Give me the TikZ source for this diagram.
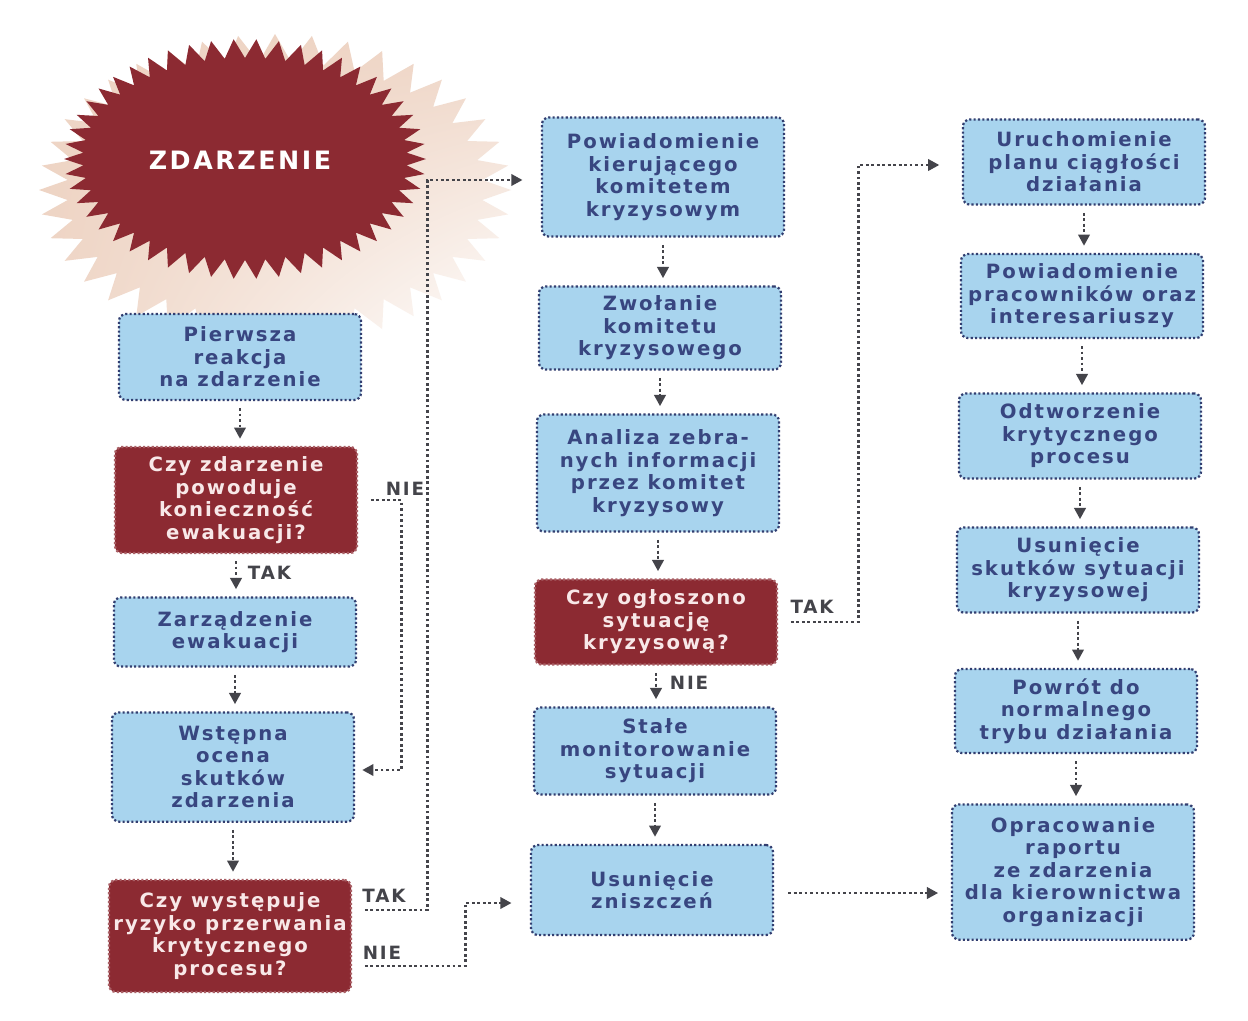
\documentclass[tikz,border=0pt]{standalone}
\usepackage{fontspec}
\setmainfont{DejaVu Sans}[LetterSpace=10]
\usepackage{tikz}
\usetikzlibrary{arrows.meta,positioning,calc,shadings}

\definecolor{evred}{RGB}{140,42,50}
\definecolor{starbeige}{RGB}{238,212,196}
\definecolor{boxblue}{RGB}{168,212,238}
\definecolor{boxedge}{RGB}{50,62,112}
\definecolor{boxtext}{RGB}{56,70,128}
\definecolor{redtext}{RGB}{248,232,232}
\definecolor{arrowgrey}{RGB}{68,68,74}

\begin{document}
\begin{tikzpicture}[
  x=0.025cm, y=-0.025cm,
  box/.style={
    rectangle, rounded corners=5pt,
    minimum width=6.05cm, align=center, inner sep=2pt,
    font=\fontsize{14}{16}\selectfont\bfseries
  },
  bluebox/.style={box, fill=boxblue, draw=boxedge, line width=1.6pt,
    dash pattern=on 1.5pt off 1.6pt, text=boxtext},
  redbox/.style={box, fill=evred, draw=evred!75!white, line width=1.6pt,
    dash pattern=on 1.5pt off 1.6pt, text=redtext},
  arrow/.style={-{Triangle[length=8pt,width=8pt]}, draw=arrowgrey,
    line width=2.1pt, dash pattern=on 2pt off 1.9pt,
    shorten <=5pt, shorten >=5pt},
  lbl/.style={font=\fontsize{13}{15}\selectfont\bfseries, text=arrowgrey}
]
\path[fill=white] (0,0) rectangle (1248,1020);
% Starburst
\shade[upper left=starbeige, upper right=starbeige, lower left=starbeige, lower right=white]
  plot[domain=0:80, samples=81, variable=\i]
  ({275+(236-28*mod(round(\i),2))*cos(\i*4.5)},
   {190+(156-28*mod(round(\i),2))*sin(\i*4.5)}) -- cycle;
\fill[evred] plot[domain=0:100, samples=101, variable=\i]
  ({245+(181-19*mod(round(\i),2))*cos(\i*3.6)},
   {159+(120-19*mod(round(\i),2))*sin(\i*3.6)}) -- cycle;
\node[font=\fontsize{18}{20}\selectfont\bfseries, text=white] (zdarzenie) at (240,160) {ZDARZENIE};
% Left column
\node[bluebox, minimum height=2.15cm] (pierwsza) at (240,357) {Pierwsza\\reakcja\\na zdarzenie};
\node[redbox, minimum height=2.65cm] (ewak) at (236,500) {Czy zdarzenie\\powoduje\\konieczność\\ewakuacji?};
\node[bluebox, minimum height=1.73cm] (zarzadz) at (235,632) {Zarządzenie\\ewakuacji};
\node[bluebox, minimum height=2.73cm] (wstepna) at (233,767) {Wstępna\\ocena\\skutków\\zdarzenia};
\node[redbox, minimum height=2.8cm] (ryzyko) at (230,936) {Czy występuje\\ryzyko przerwania\\krytycznego\\procesu?};
% Middle column
\node[bluebox, minimum height=2.98cm] (powiad) at (663,177) {Powiadomienie\\kierującego\\komitetem\\kryzysowym};
\node[bluebox, minimum height=2.08cm] (zwolanie) at (660,328) {Zwołanie\\komitetu\\kryzysowego};
\node[bluebox, minimum height=2.93cm] (analiza) at (658,473) {Analiza zebra-\\nych informacji\\przez komitet\\kryzysowy};
\node[redbox, minimum height=2.13cm] (oglosz) at (656,622) {Czy ogłoszono\\sytuację\\kryzysową?};
\node[bluebox, minimum height=2.18cm] (monit) at (655,751) {Stałe\\monitorowanie\\sytuacji};
\node[bluebox, minimum height=2.25cm] (usun) at (652,890) {Usunięcie\\zniszczeń};
% Right column
\node[bluebox, minimum height=2.13cm] (urucho) at (1084,162) {Uruchomienie\\planu ciągłości\\działania};
\node[bluebox, minimum height=2.1cm] (pracown) at (1082,296) {Powiadomienie\\pracowników oraz\\interesariuszy};
\node[bluebox, minimum height=2.13cm] (odtw) at (1080,436) {Odtworzenie\\krytycznego\\procesu};
\node[bluebox, minimum height=2.13cm] (skutki) at (1078,570) {Usunięcie\\skutków sytuacji\\kryzysowej};
\node[bluebox, minimum height=2.1cm] (powrot) at (1076,711) {Powrót do\\normalnego\\trybu działania};
\node[bluebox, minimum height=3.38cm] (raport) at (1073,872) {Opracowanie\\raportu\\ze zdarzenia\\dla kierownictwa\\organizacji};
% Labels
\node[lbl, anchor=west] (takA) at (243,573) {TAK};
\node[lbl] (nieA) at (405,489) {NIE};
\node[lbl] (takB) at (384,896) {TAK};
\node[lbl] (nieB) at (382,953) {NIE};
\node[lbl] (takC) at (812,607) {TAK};
\node[lbl, anchor=west] (nieC) at (665,683) {NIE};
% Arrows
\draw[arrow] (pierwsza) -- (pierwsza |- ewak.north);
\draw[arrow] (ewak) -- (ewak |- zarzadz.north);
\draw[arrow] (zarzadz) -- (zarzadz |- wstepna.north);
\draw[arrow] (wstepna) -- (wstepna |- ryzyko.north);
\draw[arrow, shorten <=9pt] (ewak.east) -- ++(43,0) |- ($(wstepna.east)+(0,3)$);
\draw[arrow, shorten <=9pt, shorten >=13pt] ($(ryzyko.east)+(0,-26)$) -- ++(75,0) |- ($(powiad.west)+(0,3)$);
\draw[arrow, shorten <=9pt, shorten >=13pt] ($(ryzyko.east)+(0,30)$) -- ++(113,0) |- ($(usun.west)+(0,13)$);
\draw[arrow] (powiad) -- (powiad |- zwolanie.north);
\draw[arrow] (zwolanie) -- (zwolanie |- analiza.north);
\draw[arrow] (analiza) -- (analiza |- oglosz.north);
\draw[arrow] (oglosz) -- (oglosz |- monit.north);
\draw[arrow] (monit) -- (monit |- usun.north);
\draw[arrow, shorten <=9pt, shorten >=16pt] (oglosz.east) -- ++(80,0) |- ($(urucho.west)+(0,3)$);
\draw[arrow, shorten <=10pt, shorten >=9pt] ($(usun.east)+(0,3)$) -- ($(usun.east -| raport.west)+(0,3)$);
\draw[arrow] (urucho) -- (urucho |- pracown.north);
\draw[arrow] (pracown) -- (pracown |- odtw.north);
\draw[arrow] (odtw) -- (odtw |- skutki.north);
\draw[arrow] (skutki) -- (skutki |- powrot.north);
\draw[arrow] (powrot) -- (powrot |- raport.north);
\end{tikzpicture}
\end{document}
